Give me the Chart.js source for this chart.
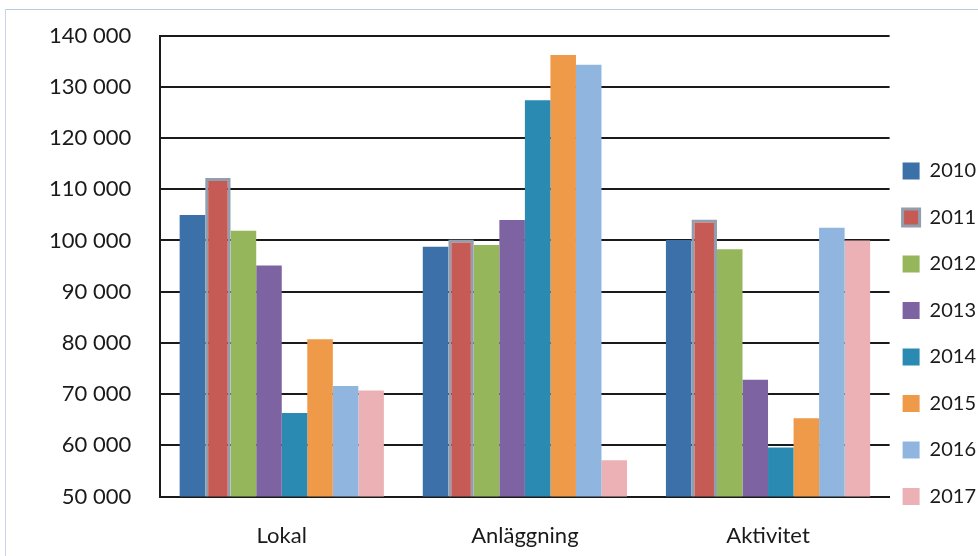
<!DOCTYPE html>
<html>
<head>
<meta charset="utf-8">
<script src="https://cdn.jsdelivr.net/npm/chart.js@4/dist/chart.umd.min.js"></script>
<style>
    html, body { margin: 0; padding: 0; background: #fff; }
    #wrap { position: relative; width: 978px; height: 556px; overflow: hidden; }
    #frame { position: absolute; left: 5px; top: 9px; width: 990px; height: 560px; border-top: 1px solid #b9cbe0; border-left: 1px solid #c9d6e6; pointer-events: none; }
</style>
</head>
<body>
<div id="wrap">
    <canvas id="c1" width="978" height="556"></canvas>
    <div id="frame"></div>
</div>
<script>
const CATEGORIES = ['Lokal', 'Anläggning', 'Aktivitet'];
const YEARS = ['2010', '2011', '2012', '2013', '2014', '2015', '2016', '2017'];

// values per year: [Lokal, Anläggning, Aktivitet]
const v2010 = [105000, 98800, 100100];
const v2011 = [112200, 100200, 104100];
const v2012 = [101900, 99100, 98300];
const v2013 = [95100, 104000, 72800];
const v2014 = [66300, 127400, 59600];
const v2015 = [80700, 136200, 65300];
const v2016 = [71600, 134300, 102500];
const v2017 = [70700, 57100, 100000];

const Y_MIN = 50000;
const Y_MAX = 140000;
const Y_STEP = 10000;

const values = [v2010, v2011, v2012, v2013, v2014, v2015, v2016, v2017];
const colors = ['#3b70a9', '#c65b55', '#95b65b', '#7d63a1', '#2a8ab1', '#ef9a49', '#90b6e0', '#ebb1b4'];

const FONT = { family: 'Lato', size: 22 };
const INK = '#1a1a1a';

const datasets = [];
for(let i = 0; i < YEARS.length; i++){
    datasets.push({
        label: YEARS[i],
        data: values[i],
        backgroundColor: colors[i],
        borderColor: i == 1 ? '#929eae' : colors[i],
        borderWidth: i == 1 ? 3 : 0,
        categoryPercentage: 0.84,
        barPercentage: 1.0
    });
}

function formatTick(v){
    return String(v).replace(/\B(?=(\d{3})+$)/g, ' ');
}

new Chart(document.getElementById('c1').getContext('2d'), {
    type: 'bar',
    data: {
        labels: CATEGORIES,
        datasets: datasets
    },
    options: {
        responsive: false,
        animation: false,
        layout: {
            padding: { top: 22, left: 20, right: -8, bottom: -19 }
        },
        scales: {
            x: {
                grid: { display: false, drawTicks: false },
                border: { display: true, color: INK, width: 2 },
                ticks: { font: FONT, color: INK, padding: 26 }
            },
            y: {
                min: Y_MIN,
                max: Y_MAX,
                grid: { color: INK, lineWidth: 2, drawTicks: false },
                border: { display: true, color: INK, width: 2 },
                ticks: {
                    stepSize: Y_STEP,
                    // small lineHeight keeps the top label from pushing the plot down
                    font: { family: 'Lato', size: 22, lineHeight: 0.6 },
                    color: INK,
                    padding: 29,
                    callback: formatTick
                }
            }
        },
        plugins: {
            tooltip: { enabled: false },
            legend: {
                position: 'right',
                align: 'start',
                title: { display: true, text: '', font: { size: 10 }, padding: { top: 114, bottom: 0 } },
                labels: {
                    font: { family: 'Lato', size: 20, lineHeight: '33.5px' },
                    color: INK,
                    boxWidth: 17,
                    boxHeight: 17,
                    padding: 13,
                    // one-line array text so the row height follows the font lineHeight
                    generateLabels(chart){
                        return Chart.defaults.plugins.legend.labels.generateLabels(chart).map(item => {
                            item.text = [item.text];
                            return item;
                        });
                    }
                }
            }
        }
    }
});
</script>
</body>
</html>
